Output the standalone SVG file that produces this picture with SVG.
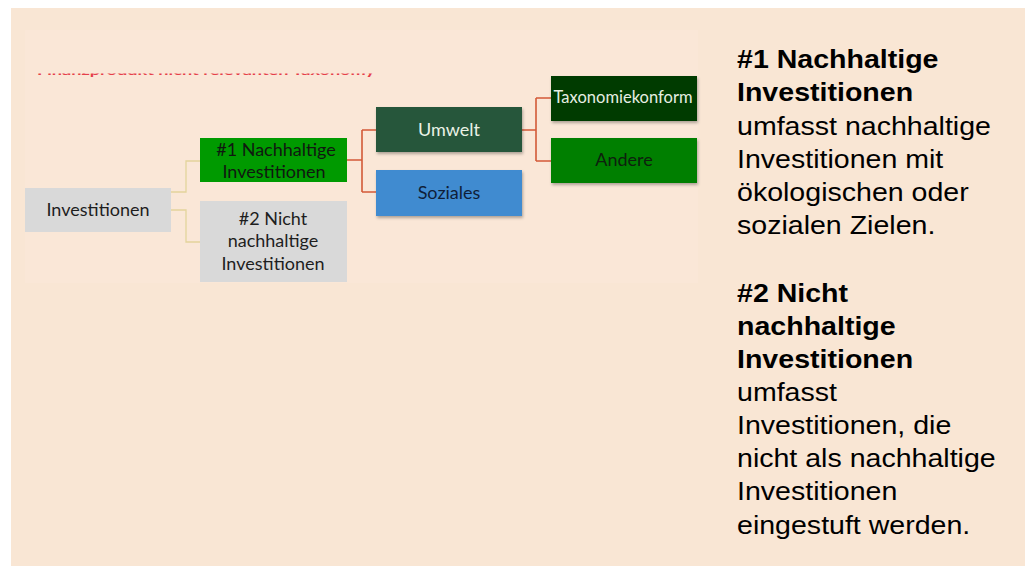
<svg xmlns="http://www.w3.org/2000/svg" width="1025" height="566" viewBox="0 0 1025 566">
<defs>
<style>
.nl{font-family:Lato,"Open Sans","Liberation Sans",sans-serif;font-size:18px;text-anchor:middle}
.rt{font-family:"Liberation Sans",Arial,sans-serif;font-size:25.5px;fill:#000}
.b{font-weight:bold}
.cy{fill:none;stroke:#E3D49C;stroke-width:1.3}
.cr{fill:none;stroke:#D35A38;stroke-width:1.6}
</style>
<filter id="sh" x="-10%" y="-20%" width="130%" height="150%">
<feDropShadow dx="1" dy="2" stdDeviation="1.5" flood-color="#000" flood-opacity="0.3"/>
</filter>
<clipPath id="cut" clipPathUnits="userSpaceOnUse"><rect x="30" y="73.5" width="360" height="6"/></clipPath>
</defs>
<rect x="0" y="0" width="1025" height="566" fill="#FFFFFF"/>
<rect x="11" y="8" width="1014" height="558" fill="#F9E6D4"/>
<rect x="25" y="30" width="673" height="253" fill="#FAE7D7"/>
<g id="cut-text" clip-path="url(#cut)">
<text x="37" y="75" font-family="Lato,'Liberation Sans',sans-serif" font-size="14" font-weight="bold" fill="#E5404A" textLength="338" lengthAdjust="spacingAndGlyphs">Finanzprodukt nicht relevanten Taxonomy</text>
</g>
<g id="connectors">
<path class="cy" d="M171,192 H186 V161 H200"/>
<path class="cy" d="M171,210 H186 V242 H200"/>
<path class="cr" d="M347,160 H362 M362,130 V192 M362,130 H376 M362,192 H376"/>
<path class="cr" d="M522,130 H536 M536,98 V161 M536,98 H551 M536,161 H551"/>
</g>
<g id="investitionen">
<rect x="25" y="188" width="146" height="44" fill="#D9D9D9"/>
<text class="nl" x="98" y="216" fill="#1E1E1E">Investitionen</text>
</g>
<g id="nachhaltig">
<rect x="200" y="138" width="147" height="44" fill="#009A00"/>
<text class="nl" x="276" y="156" fill="#101810">#1 Nachhaltige</text>
<text class="nl" x="274" y="178" fill="#101810">Investitionen</text>
</g>
<g id="nicht-nachhaltig">
<rect x="200" y="201" width="147" height="81" fill="#D9D9D9"/>
<text class="nl" x="273" y="225" fill="#1E1E1E">#2 Nicht</text>
<text class="nl" x="273" y="247" fill="#1E1E1E">nachhaltige</text>
<text class="nl" x="273" y="270" fill="#1E1E1E">Investitionen</text>
</g>
<g id="umwelt">
<rect x="376" y="107" width="146" height="45" fill="#27573A" filter="url(#sh)"/>
<text class="nl" x="449" y="136" fill="#EAF2E6">Umwelt</text>
</g>
<g id="soziales">
<rect x="376" y="170" width="146" height="46" fill="#418BD0" filter="url(#sh)"/>
<text class="nl" x="449" y="199" fill="#0F1E38">Soziales</text>
</g>
<g id="taxonomiekonform">
<rect x="551" y="76" width="146" height="45" fill="#023A05" filter="url(#sh)"/>
<text class="nl" x="623" y="103" fill="#E6EEE2" textLength="139" lengthAdjust="spacingAndGlyphs" style="font-size:16.5px">Taxonomiekonform</text>
</g>
<g id="andere">
<rect x="551" y="138" width="146" height="45" fill="#017F02" filter="url(#sh)"/>
<text class="nl" x="624" y="166" fill="#0E200E">Andere</text>
</g>
<g id="legend" transform="translate(737,0) scale(1.12,1)">
<text class="rt b" x="0" y="68">#1 Nachhaltige</text>
<text class="rt b" x="0" y="101">Investitionen</text>
<text class="rt" x="0" y="135">umfasst nachhaltige</text>
<text class="rt" x="0" y="168">Investitionen mit</text>
<text class="rt" x="0" y="201">ökologischen oder</text>
<text class="rt" x="0" y="234">sozialen Zielen.</text>
<text class="rt b" x="0" y="302">#2 Nicht</text>
<text class="rt b" x="0" y="335">nachhaltige</text>
<text class="rt b" x="0" y="368">Investitionen</text>
<text class="rt" x="0" y="401">umfasst</text>
<text class="rt" x="0" y="434">Investitionen, die</text>
<text class="rt" x="0" y="467">nicht als nachhaltige</text>
<text class="rt" x="0" y="500">Investitionen</text>
<text class="rt" x="0" y="534">eingestuft werden.</text>
</g>
</svg>
